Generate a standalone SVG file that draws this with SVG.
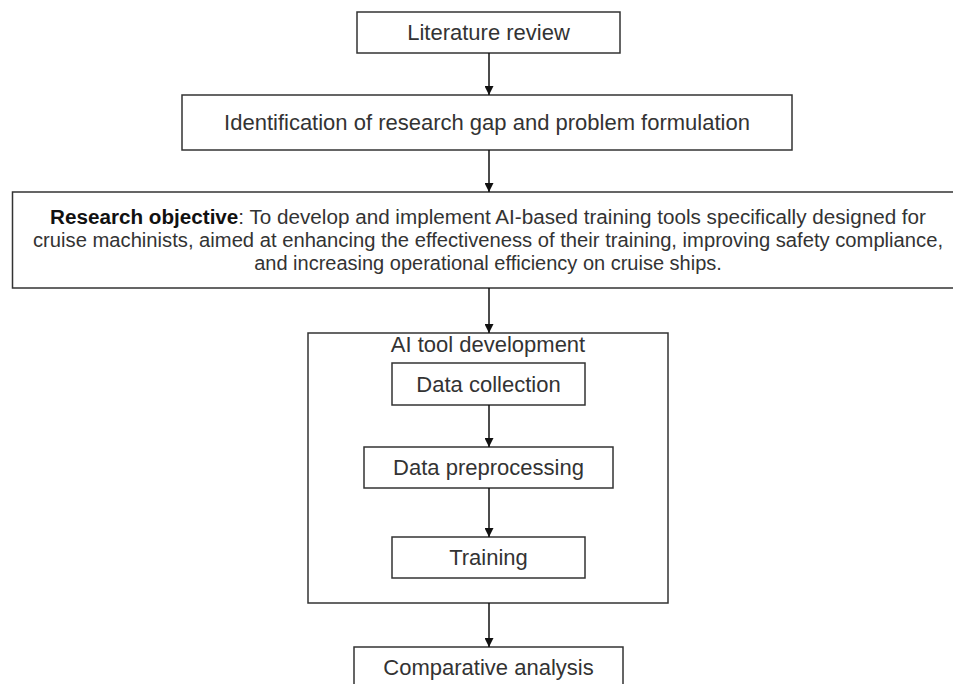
<svg xmlns="http://www.w3.org/2000/svg" width="953" height="684" viewBox="0 0 953 684">
<defs>
<style>
.box{fill:#fff;stroke:#333;stroke-width:1.5}
.grp{fill:none;stroke:#333;stroke-width:1.5}
.t{font-family:"Liberation Sans",Arial,sans-serif;font-size:22px;fill:#333;text-anchor:middle}
.s{font-family:"Liberation Sans",Arial,sans-serif;font-size:20px;fill:#333;text-anchor:middle}
.b{font-weight:bold;fill:#111}
.c{stroke:#111;stroke-width:1.5;fill:none;marker-end:url(#ah)}
</style>
<marker id="ah" viewBox="0 0 10 10" refX="10" refY="5" markerWidth="6" markerHeight="6" orient="auto" markerUnits="strokeWidth">
<path d="M0,0 L10,5 L0,10 z" fill="#111"/>
</marker>
</defs>
<rect width="953" height="684" fill="#fff"/>
<g id="literature-review">
<rect class="box" x="357" y="12" width="263" height="41"/>
<text class="t" x="488.5" y="40">Literature review</text>
</g>
<g id="identification">
<rect class="box" x="182" y="95" width="610" height="55"/>
<text class="t" x="487" y="130">Identification of research gap and problem formulation</text>
</g>
<g id="research-objective">
<rect class="box" x="12.5" y="192" width="950" height="96"/>
<text class="s" x="488" y="224" textLength="876" lengthAdjust="spacingAndGlyphs"><tspan class="b">Research objective</tspan>: To develop and implement AI-based training tools specifically designed for</text>
<text class="s" x="488" y="247" textLength="910" lengthAdjust="spacingAndGlyphs">cruise machinists, aimed at enhancing the effectiveness of their training, improving safety compliance,</text>
<text class="s" x="488" y="270">and increasing operational efficiency on cruise ships.</text>
</g>
<g id="ai-tool-development">
<rect class="grp" x="308" y="333" width="360" height="270"/>
<text class="t" x="488" y="352">AI tool development</text>
</g>
<g id="data-collection">
<rect class="box" x="392" y="363" width="193" height="42"/>
<text class="t" x="488.5" y="392">Data collection</text>
</g>
<g id="data-preprocessing">
<rect class="box" x="364" y="447" width="249" height="41"/>
<text class="t" x="488.5" y="475">Data preprocessing</text>
</g>
<g id="training">
<rect class="box" x="392" y="537" width="193" height="41"/>
<text class="t" x="488.5" y="565">Training</text>
</g>
<g id="comparative-analysis">
<rect class="box" x="354" y="647" width="269" height="50"/>
<text class="t" x="488.5" y="675">Comparative analysis</text>
</g>
<g id="connectors">
<line class="c" x1="489" y1="53" x2="489" y2="95"/>
<line class="c" x1="489" y1="150" x2="489" y2="192"/>
<line class="c" x1="489" y1="288" x2="489" y2="333"/>
<line class="c" x1="489" y1="405" x2="489" y2="447"/>
<line class="c" x1="489" y1="488" x2="489" y2="537"/>
<line class="c" x1="489" y1="603" x2="489" y2="647"/>
</g>
</svg>
